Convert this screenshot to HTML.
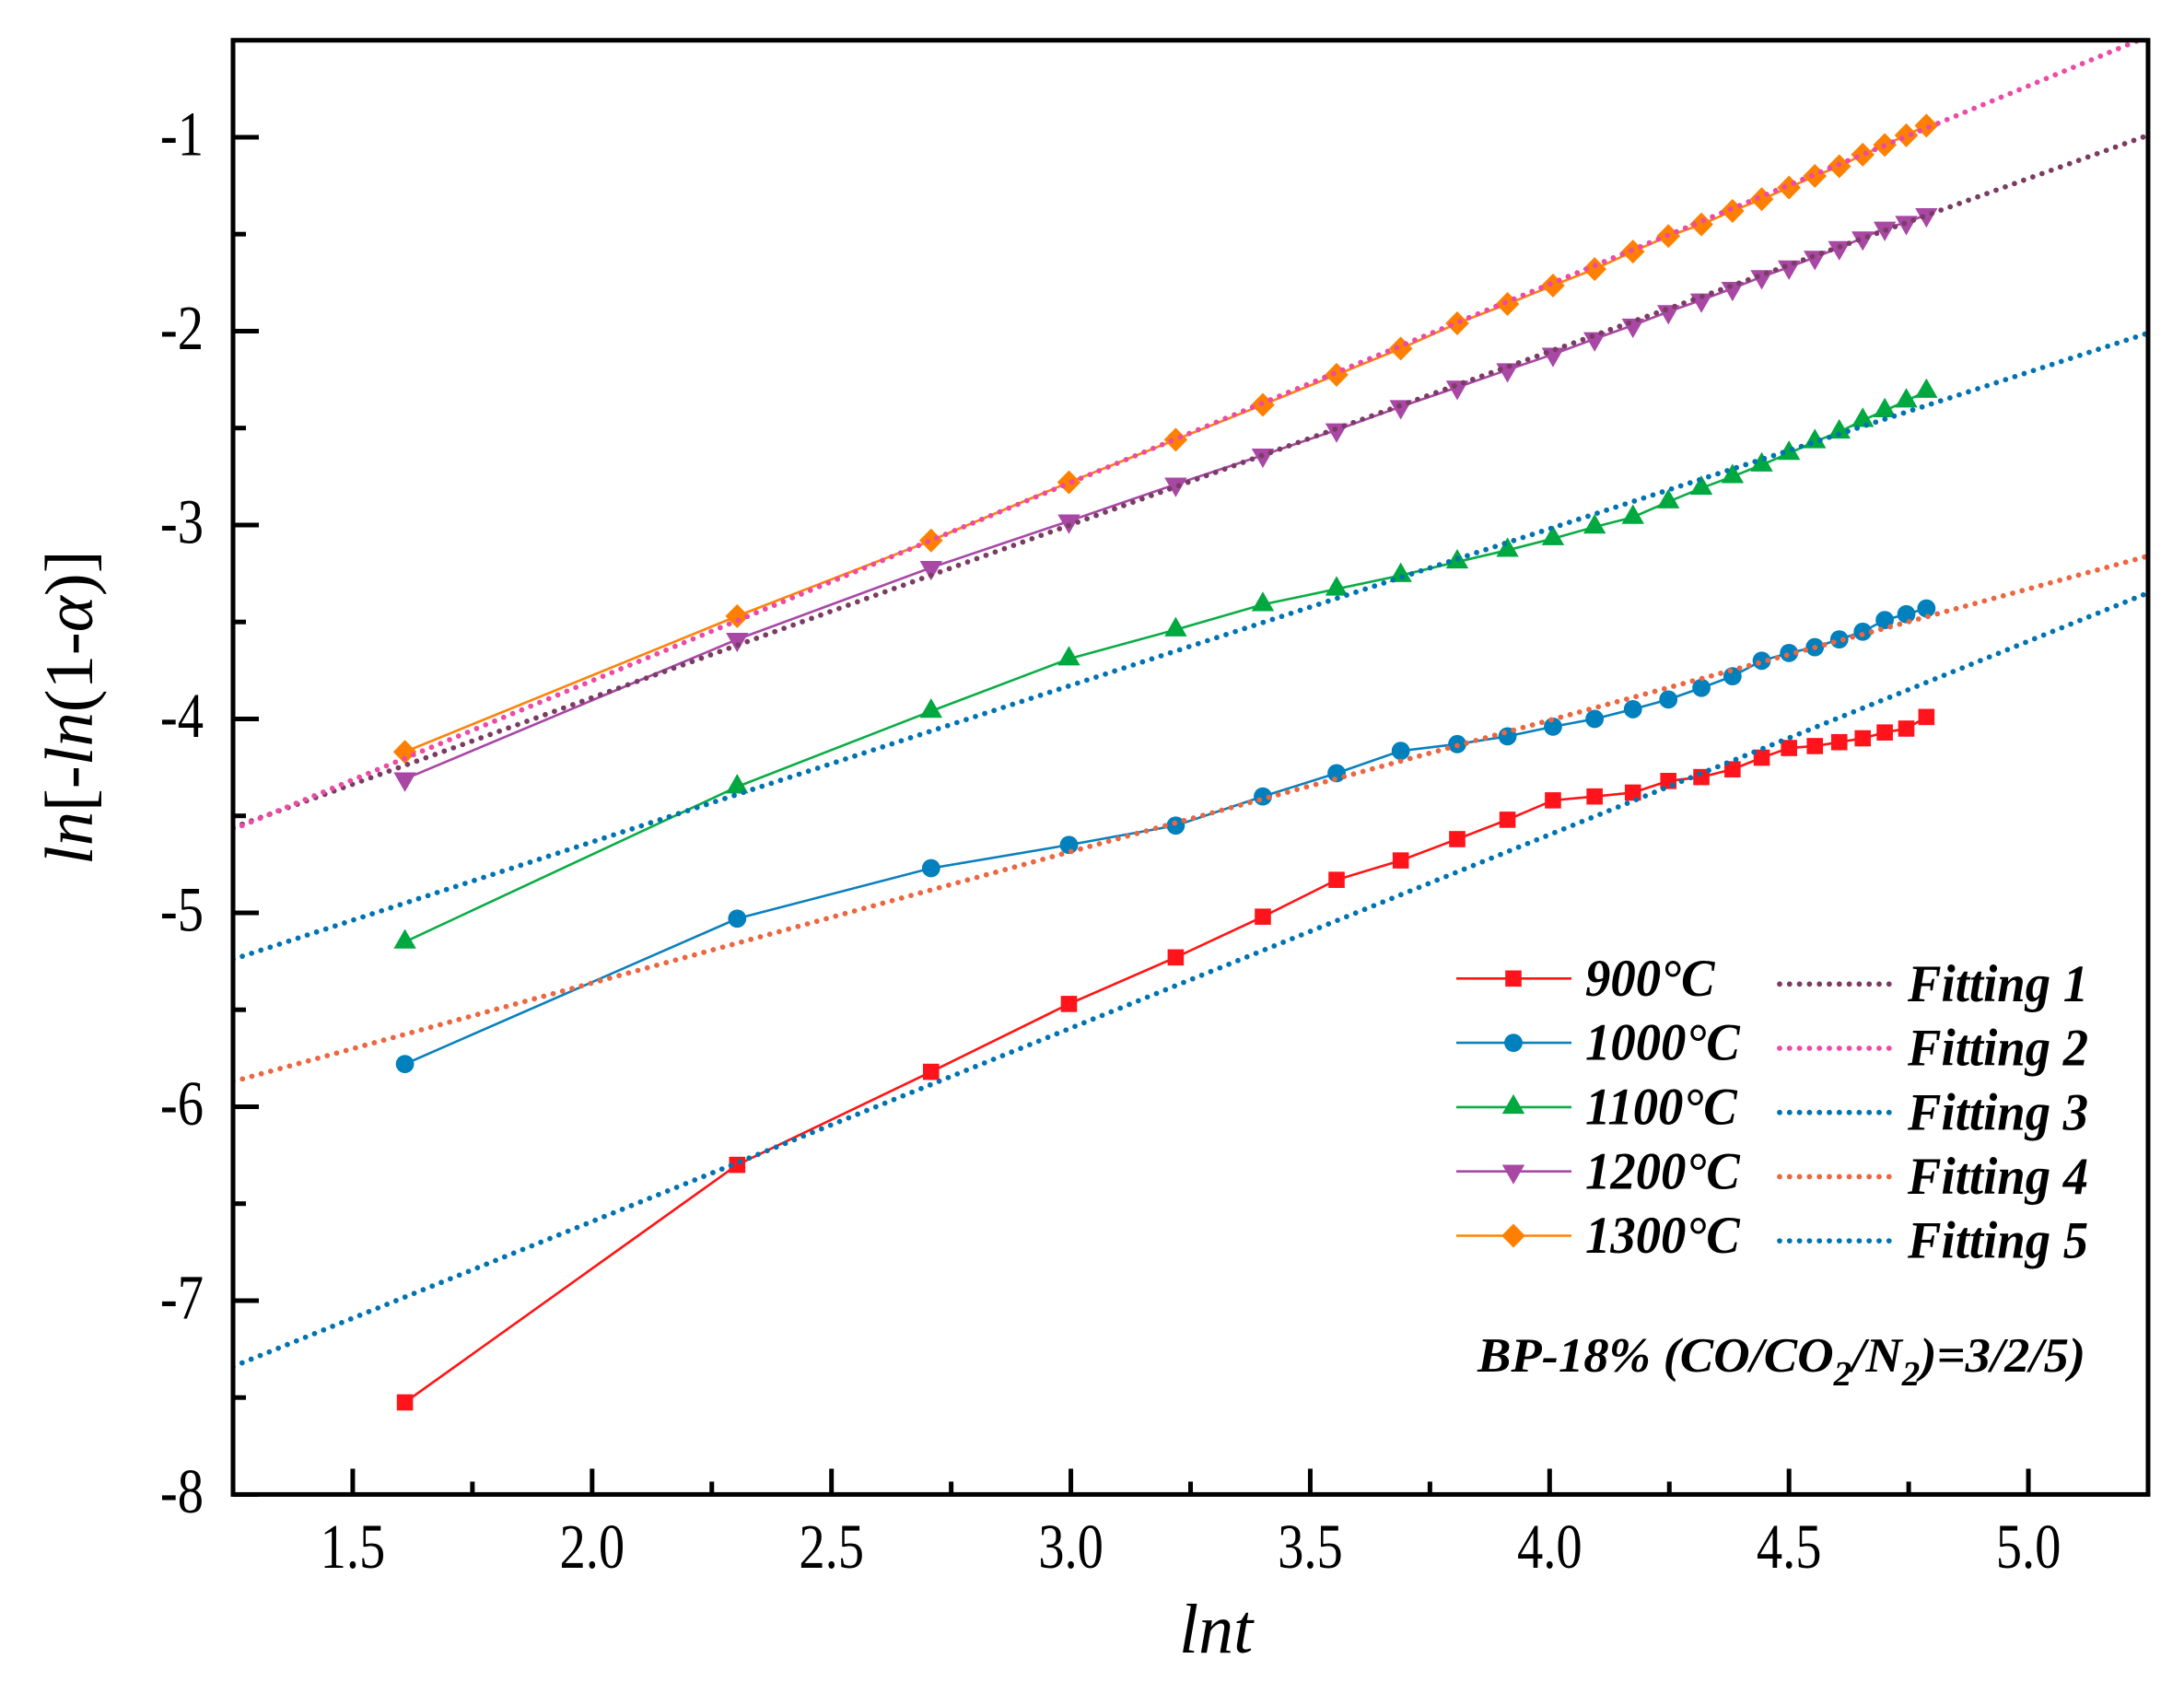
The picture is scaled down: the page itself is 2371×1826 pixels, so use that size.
<!DOCTYPE html>
<html lang="en">
<head>
<meta charset="utf-8">
<title>lnt chart</title>
<style>
html,body{margin:0;padding:0;background:#fff;}
svg{display:block;}
text{font-family:"Liberation Serif","DejaVu Serif",serif;fill:#000;}
</style>
</head>
<body>
<svg id="chart" xmlns="http://www.w3.org/2000/svg" width="2371" height="1826" viewBox="0 0 2371 1826">
  <defs><clipPath id="plot-clip"><rect x="253" y="43.7" width="2079" height="1578.7"/></clipPath></defs>
  <rect x="0" y="0" width="2371" height="1826" fill="#fff"/>
  <g id="data-layer" clip-path="url(#plot-clip)"></g>
  <g id="fit-layer" clip-path="url(#plot-clip)"></g>
  <g id="axis-layer"></g>
  <rect x="253" y="43.7" width="2079" height="1578.7" fill="none" stroke="#000" stroke-width="5"/>
  <text transform="translate(100,939) rotate(-90)" font-size="74.6"><tspan font-style="italic">ln</tspan>[-<tspan font-style="italic">ln</tspan>(1-<tspan font-style="italic">α</tspan>)]</text>
  <text x="1280" y="1794" font-size="76" font-style="italic">lnt</text>
  <g id="legend-layer"></g>
  <text transform="translate(1604,1489) scale(1.03,1)" font-size="53" font-weight="bold" font-style="italic">BP-18% (CO/CO<tspan font-size="38" dy="15">2</tspan><tspan dy="-15">/N</tspan><tspan font-size="38" dy="15">2</tspan><tspan dy="-15">)=3/2/5)</tspan></text>
</svg>
<script>
const lnTime = [1.609,2.303,2.708,2.996,3.219,3.401,3.555,3.689,3.807,3.912,4.007,4.094,4.174,4.248,4.317,4.382,4.443,4.500,4.554,4.605,4.654,4.700,4.745,4.787];
const values900 = [-7.525,-6.30,-5.82,-5.47,-5.23,-5.02,-4.83,-4.73,-4.62,-4.52,-4.42,-4.40,-4.38,-4.32,-4.30,-4.26,-4.20,-4.15,-4.14,-4.12,-4.10,-4.07,-4.05,-3.99];
const values1000 = [-5.78,-5.03,-4.77,-4.65,-4.55,-4.40,-4.28,-4.165,-4.13,-4.09,-4.04,-4.00,-3.95,-3.90,-3.84,-3.78,-3.70,-3.66,-3.63,-3.59,-3.55,-3.49,-3.46,-3.43];
const values1100 = [-5.15,-4.35,-3.96,-3.69,-3.54,-3.41,-3.33,-3.26,-3.19,-3.13,-3.07,-3.01,-2.96,-2.88,-2.81,-2.75,-2.69,-2.63,-2.57,-2.52,-2.46,-2.41,-2.36,-2.31];
const values1200 = [-4.31,-3.59,-3.22,-2.98,-2.79,-2.64,-2.51,-2.39,-2.29,-2.20,-2.12,-2.04,-1.97,-1.90,-1.84,-1.78,-1.72,-1.67,-1.62,-1.57,-1.52,-1.47,-1.44,-1.40];
const values1300 = [-4.17,-3.47,-3.08,-2.78,-2.56,-2.38,-2.225,-2.09,-1.96,-1.86,-1.765,-1.68,-1.59,-1.51,-1.45,-1.38,-1.32,-1.26,-1.20,-1.15,-1.09,-1.04,-0.99,-0.94];
const fitX = [1.25,5.25];
const fitting1 = [-4.56,-0.99];
const fitting2 = [-4.57,-0.48];
const fitting3 = [-5.24,-2.01];
const fitting4 = [-5.87,-3.16];
const fitting5 = [-7.34,-3.35];
const xMajorTicks = ["1.5","2.0","2.5","3.0","3.5","4.0","4.5","5.0"];
const xMinorTicks = [1.75,2.25,2.75,3.25,3.75,4.25,4.75];
const yMajorTicks = ["-1","-2","-3","-4","-5","-6","-7","-8"];
const yMinorTicks = [-1.5,-2.5,-3.5,-4.5,-5.5,-6.5,-7.5];
const seriesNames = ["900°C","1000°C","1100°C","1200°C","1300°C"];
const fitNames = ["Fitting 1","Fitting 2","Fitting 3","Fitting 4","Fitting 5"];

const NS = "http://www.w3.org/2000/svg";
const X = v => 253 + (v - 1.25) * 519.75;
const Y = v => 43.7 + (-0.5 - v) * 210.5;

function make(parent, tag, attrs) {
  const el = document.createElementNS(NS, tag);
  for (const k in attrs) el.setAttribute(k, attrs[k]);
  parent.appendChild(el);
  return el;
}

function drawMarker(parent, shape, cx, cy, color) {
  if (shape === "square") {
    return make(parent, "rect", {x: cx - 8.8, y: cy - 8.8, width: 17.6, height: 17.6, fill: color});
  }
  if (shape === "circle") {
    return make(parent, "circle", {cx: cx, cy: cy, r: 9.9, fill: color});
  }
  if (shape === "up") {
    return make(parent, "polygon", {points: `${cx},${cy - 14} ${cx + 12.2},${cy + 7.2} ${cx - 12.2},${cy + 7.2}`, fill: color});
  }
  if (shape === "down") {
    return make(parent, "polygon", {points: `${cx},${cy + 14} ${cx + 12.2},${cy - 7.2} ${cx - 12.2},${cy - 7.2}`, fill: color});
  }
  return make(parent, "polygon", {points: `${cx},${cy - 13} ${cx + 12.8},${cy} ${cx},${cy + 13} ${cx - 12.8},${cy}`, fill: color});
}

const dataLayer = document.getElementById("data-layer");
const fitLayer = document.getElementById("fit-layer");
const axisLayer = document.getElementById("axis-layer");
const legendLayer = document.getElementById("legend-layer");

const allSeries = [values900, values1000, values1100, values1200, values1300];
const lineColors = ["#ff1414","#0a80bd","#0aad45","#a848a6","#ff8308"];
const markerColors = ["#ff141c","#0080bd","#00a840","#a847a4","#ff8000"];
const markerShapes = ["square","circle","up","down","diamond"];

allSeries.forEach((vals, s) => {
  const group = make(dataLayer, "g", {});
  
  
  const pts = vals.map((v, i) => X(lnTime[i]).toFixed(2) + "," + Y(v).toFixed(2)).join(" ");
  const line = make(group, "polyline", {points: pts, fill: "none", stroke: lineColors[s], "stroke-width": 2.6});
  
  
  vals.forEach((v, i) => {
    const m = drawMarker(group, markerShapes[s], X(lnTime[i]), Y(v), markerColors[s]);
    
    
  });
});

const allFits = [fitting1, fitting2, fitting3, fitting4, fitting5];
const fitColors = ["#7b3c63","#ee4aa5","#0073b0","#ec6640","#0073b0"];
allFits.forEach((vals, f) => {
  const line = make(fitLayer, "line", {
    x1: X(fitX[0]), y1: Y(vals[0]), x2: X(fitX[1]), y2: Y(vals[1]),
    stroke: fitColors[f], "stroke-width": 5.8, "stroke-linecap": "round", "stroke-dasharray": "0 10.6"
  });
  
  
});

xMajorTicks.forEach(label => {
  const v = parseFloat(label);
  const t = make(axisLayer, "line", {x1: X(v), x2: X(v), y1: Y(-8), y2: Y(-8) - 28, stroke: "#000", "stroke-width": 5});
  
  
  const txt = make(axisLayer, "text", {transform: `translate(${X(v)},1702) scale(0.82,1)`, "text-anchor": "middle", "font-size": 69});
  txt.textContent = label;
  
  
});
xMinorTicks.forEach(v => {
  const t = make(axisLayer, "line", {x1: X(v), x2: X(v), y1: Y(-8), y2: Y(-8) - 14, stroke: "#000", "stroke-width": 5});
  
  
});
yMajorTicks.forEach(label => {
  const v = parseFloat(label);
  const t = make(axisLayer, "line", {x1: X(1.25), x2: X(1.25) + 28, y1: Y(v), y2: Y(v), stroke: "#000", "stroke-width": 5});
  
  
  const txt = make(axisLayer, "text", {transform: `translate(221,${Y(v) + 19.3}) scale(0.82,1)`, "text-anchor": "end", "font-size": 69});
  txt.textContent = label;
  
  
});
yMinorTicks.forEach(v => {
  const t = make(axisLayer, "line", {x1: X(1.25), x2: X(1.25) + 14, y1: Y(v), y2: Y(v), stroke: "#000", "stroke-width": 5});
  
  
});

seriesNames.forEach((name, i) => {
  const g = make(legendLayer, "g", {});
  
  
  const ly = 1062.3 + i * 69.8;
  make(g, "line", {x1: 1581, x2: 1706, y1: ly, y2: ly, stroke: lineColors[i], "stroke-width": 2.6});
  drawMarker(g, markerShapes[i], 1643, ly, markerColors[i]);
  const t = make(g, "text", {transform: `translate(1721,${ly + 18.6}) scale(0.96,1)`, "font-size": 57, "font-weight": "bold", "font-style": "italic"});
  t.textContent = name;
});
fitNames.forEach((name, i) => {
  const g = make(legendLayer, "g", {});
  
  
  const ly = 1068.3 + i * 69.7;
  make(g, "line", {x1: 1932, x2: 2051, y1: ly, y2: ly, stroke: fitColors[i], "stroke-width": 5.8, "stroke-linecap": "round", "stroke-dasharray": "0 10.8"});
  const t = make(g, "text", {transform: `translate(2071,${ly + 18.6}) scale(0.96,1)`, "font-size": 57, "font-weight": "bold", "font-style": "italic"});
  t.textContent = name;
});
</script>
</body>
</html>
